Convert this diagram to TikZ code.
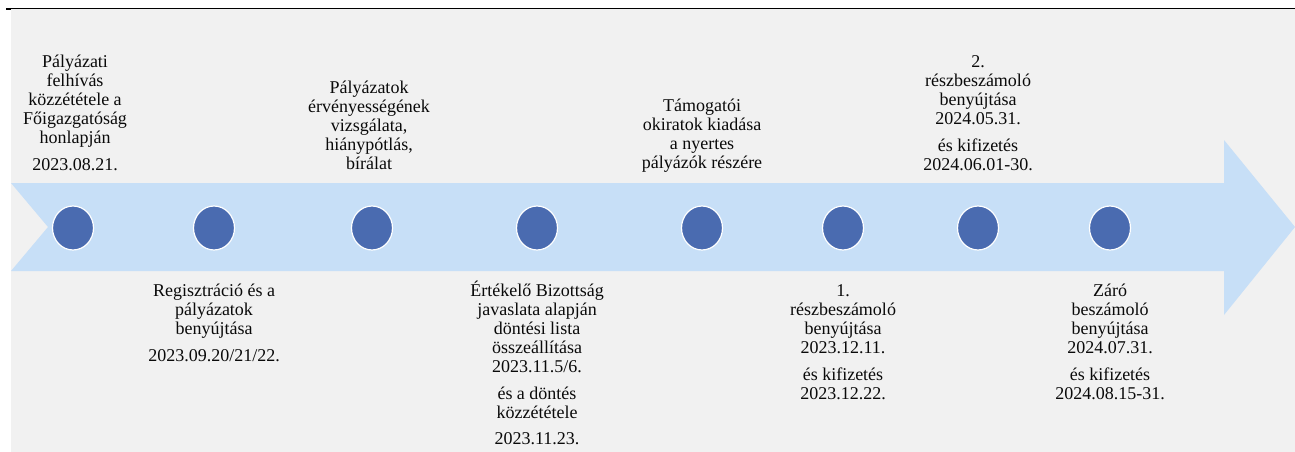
\documentclass[tikz,border=0pt]{standalone}
\usepackage{fontspec}
\setmainfont{Liberation Serif}
\definecolor{bggrey}{HTML}{F1F1F1}
\definecolor{bandblue}{HTML}{C7DFF7}
\definecolor{dotblue}{HTML}{4A6BB0}
\definecolor{txt}{HTML}{0A0A0A}
\usetikzlibrary{shapes.geometric}
\tikzset{
  dot/.style={ellipse, draw=white, line width=1.2pt, fill=dotblue, minimum width=41pt, minimum height=44pt, inner sep=0pt},
  lbl/.style={align=center, inner sep=0pt, anchor=base, text=txt, font={\fontsize{18}{18.9}\selectfont}},
}
\begin{document}
\begin{tikzpicture}[x=1pt,y=-1pt]
\useasboundingbox (0,0) rectangle (1295,452);
\fill[white] (0,0) rectangle (1295,452);
\fill[bggrey] (11,9) rectangle (1295,452);
\draw[black, line width=1.6pt] (6,8.5) -- (1295,8.5);
\fill[black] (6,8) rectangle (11,10.5);
\fill[bandblue] (11,183) -- (1224,183) -- (1224,140) -- (1295,227) -- (1224,315) -- (1224,271) -- (11,271) -- (48,227) -- cycle;
\foreach \n/\x in {1/73,2/214,3/372,4/537,5/702,6/843,7/978,8/1110}
  \node[dot] (d\n) at (\x,228) {};
% top labels (anchored at the baseline of the last line)
\node[lbl] (t1) at (75,170) {Pályázati\\felhívás\\közzététele a\\Főigazgatóság\\honlapján\\[8pt]2023.08.21.};
\node[lbl] (t3) at (369,169) {Pályázatok\\érvényességének\\vizsgálata,\\hiánypótlás,\\bírálat};
\node[lbl] (t5) at (702,168) {Támogatói\\okiratok kiadása\\a nyertes\\pályázók részére};
\node[lbl] (t7) at (978,170) {2.\\részbeszámoló\\benyújtása\\2024.05.31.\\[8pt]és kifizetés\\2024.06.01-30.};
% bottom labels
\node[lbl] (t2) at (214,361.5) {Regisztráció és a\\pályázatok\\benyújtása\\[8pt]2023.09.20/21/22.};
\node[lbl] (t4) at (537,444) {Értékelő Bizottság\\javaslata alapján\\döntési lista\\összeállítása\\2023.11.5/6.\\[8pt]és a döntés\\közzététele\\[7pt]2023.11.23.};
\node[lbl] (t6) at (843,399.2) {1.\\részbeszámoló\\benyújtása\\2023.12.11.\\[8pt]és kifizetés\\2023.12.22.};
\node[lbl] (t8) at (1110,399.2) {Záró\\beszámoló\\benyújtása\\2024.07.31.\\[8pt]és kifizetés\\2024.08.15-31.};
\end{tikzpicture}
\end{document}
